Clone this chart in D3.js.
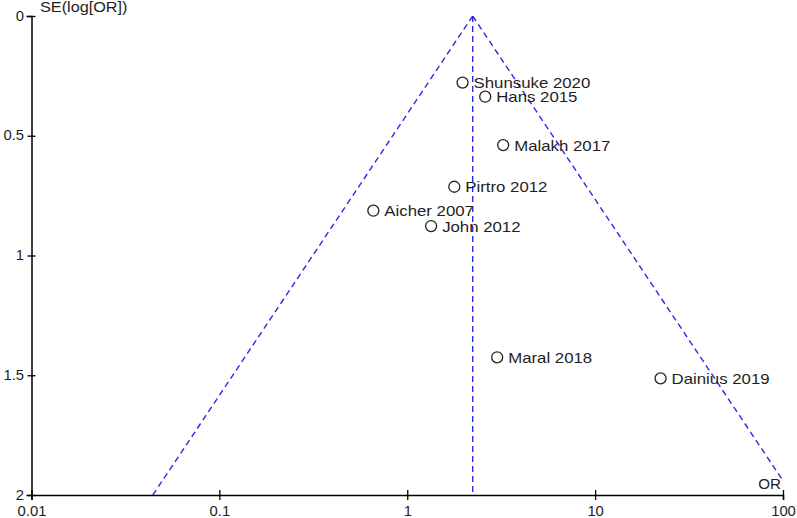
<!DOCTYPE html>
<html><head><meta charset="utf-8">
<script src="https://cdn.jsdelivr.net/npm/d3@7"></script>
<style>body{margin:0;background:#fff}svg{display:block}text{font-family:"Liberation Sans",Arial,sans-serif;font-size:14px;fill:#1e1e1e}</style>
</head><body><svg id="c" width="797" height="518"></svg>
<script>
const studies = ["Shunsuke 2020","Hans 2015","Malakh 2017","Pirtro 2012","Aicher 2007","John 2012","Maral 2018","Dainius 2019"];
const orValues = [1.97, 2.60, 3.24, 1.78, 0.66, 1.34, 3.01, 22.3];
const seValues = [0.278, 0.337, 0.539, 0.713, 0.813, 0.877, 1.425, 1.513];
const pooledOR = 2.23;
const xTicks = [0.01, 0.1, 1, 10, 100];
const xTickLabels = ["0.01","0.1","1","10","100"];
const yTicks = [0, 0.5, 1, 1.5, 2];
const yTickLabels = ["0","0.5","1","1.5","2"];

const svg = d3.select("#c");
const x = d3.scaleLog().domain([0.01, 100]).range([31.5, 783]);
const y = d3.scaleLinear().domain([0, 2]).range([16, 495]);

svg.append("defs").append("clipPath").attr("id","pc").append("rect")
  .attr("x",31).attr("y",16).attr("width",752).attr("height",479);

const blue = "#2a2ae6";
const g = svg.append("g").attr("clip-path","url(#pc)");
const seMax = 2;
const funnel = [
  [[pooledOR,0],[pooledOR*Math.exp(-1.96*seMax),seMax]],
  [[pooledOR,0],[pooledOR*Math.exp(1.96*seMax),seMax]],
  [[pooledOR,0],[pooledOR,seMax]]
];
const line = d3.line().x(d=>x(d[0])).y(d=>y(d[1]));
g.selectAll("path.f").data(funnel).join("path").attr("class","f")
  .attr("d",line).attr("fill","none").attr("stroke",blue)
  .attr("stroke-width",1.4).attr("stroke-dasharray","6,4");

// axes
const xa = svg.append("g").attr("transform","translate(0,495)")
  .call(d3.axisBottom(x).tickValues(xTicks).tickFormat((d,i)=>xTickLabels[i]).tickSize(5).tickPadding(6));
const ya = svg.append("g").attr("transform","translate(31.5,0)")
  .call(d3.axisLeft(y).tickValues(yTicks).tickFormat((d,i)=>yTickLabels[i]).tickSize(5).tickPadding(2));
[xa,ya].forEach(a=>{
  a.select(".domain").attr("stroke","#000").attr("stroke-width",1.5);
  a.selectAll(".tick line").attr("stroke","#000").attr("stroke-width",1.3);
  a.selectAll("text").style("font-family",'"Liberation Sans",Arial,sans-serif').style("font-size","14px").attr("fill","#1e1e1e");
});
xa.selectAll(".tick line").attr("y1",-5).attr("y2",5);
ya.selectAll(".tick line").attr("x1",4).attr("x2",-4);
ya.selectAll(".tick text").attr("x",-7).attr("dy","0.3em").attr("transform","scale(1.06,1)");
xa.selectAll(".tick text").attr("y",11).attr("dy","0.71em").attr("transform","scale(1.06,1)");

function stretchedText(parent, tx, ty, s, anchor, str){
  return parent.append("text").attr("transform",`translate(${tx},${ty}) scale(${s},1)`)
    .attr("text-anchor",anchor).text(str);
}
stretchedText(svg, 40, 12, 1.16, "start", "SE(log[OR])");
stretchedText(svg, 781, 489, 1.08, "end", "OR");

// points
const pts = svg.append("g");
const data = studies.map((s,i)=>({s, or:orValues[i], se:seValues[i]}));
pts.selectAll("circle").data(data).join("circle")
  .attr("cx",d=>x(d.or)).attr("cy",d=>y(d.se)).attr("r",5.5)
  .attr("fill","#fff").attr("stroke","#222").attr("stroke-width",1.3);
pts.selectAll("text").data(data).join("text")
  .attr("transform",d=>`translate(${x(d.or)+11},${y(d.se)+5.5}) scale(1.2,1)`)
  .text(d=>d.s);
</script></body></html>
